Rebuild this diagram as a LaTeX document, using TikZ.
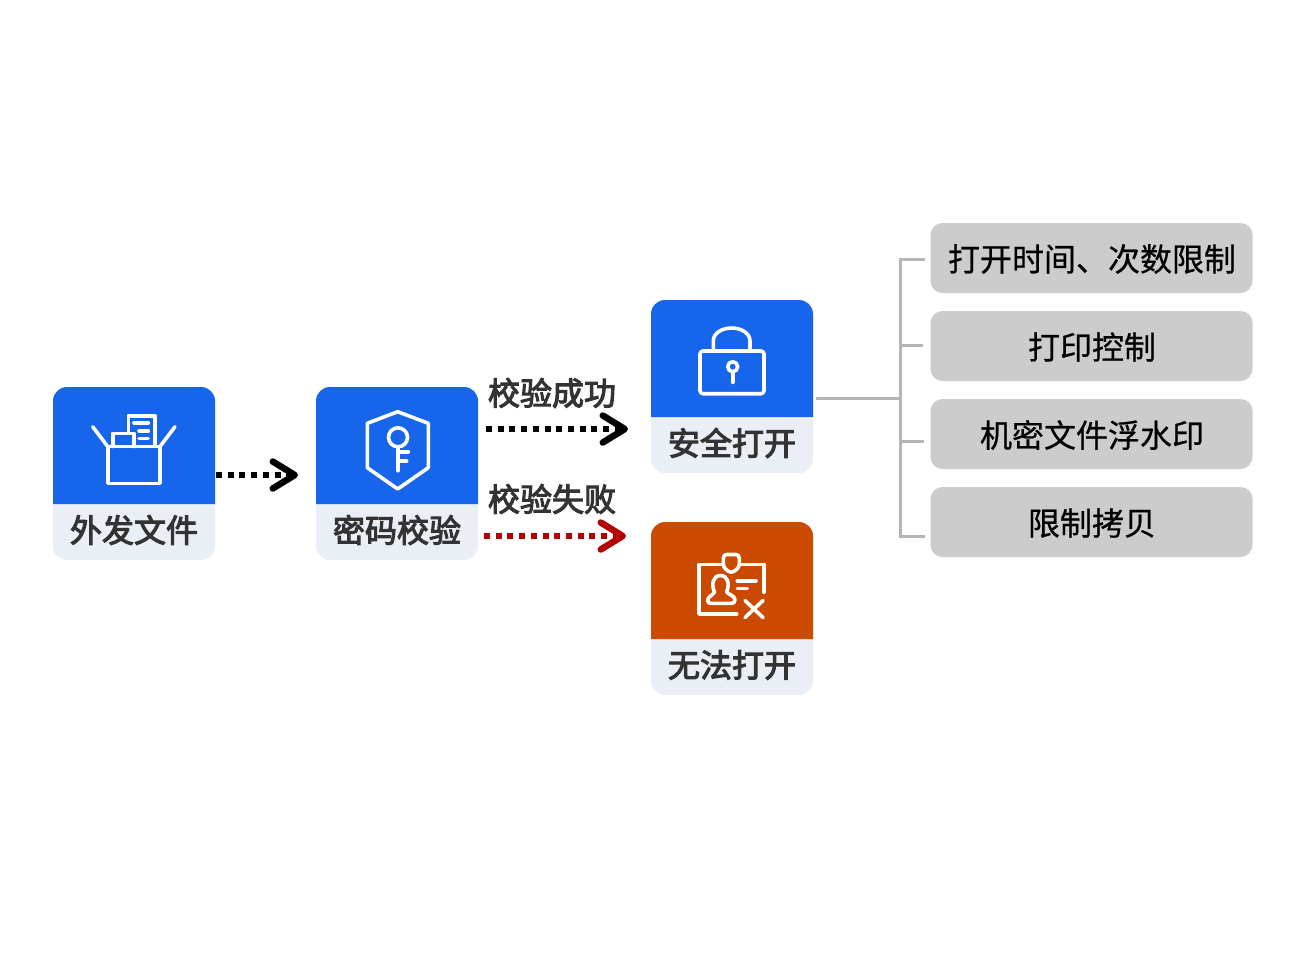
\documentclass[tikz,border=0pt]{standalone}
\usepackage{fontspec}
\setmainfont[FakeBold=0.6]{Noto Sans CJK SC}
\newfontfamily\cardfont[FakeBold=3.3]{Noto Sans CJK SC}
\usetikzlibrary{arrows.meta}
\definecolor{cardblue}{HTML}{1765EB}
\definecolor{cardorange}{HTML}{CC4A00}
\definecolor{cardpale}{HTML}{EAEFF5}
\definecolor{inkdark}{HTML}{333333}
\definecolor{failred}{HTML}{B30000}
\definecolor{linegrey}{HTML}{B5B5B5}
\definecolor{optgrey}{HTML}{CCCCCC}
\tikzset{
  cardbase/.style={fill=cardpale,rounded corners=14pt,minimum width=162pt,minimum height=173pt,inner sep=0pt,draw=none},
  cardtext/.style={font=\cardfont\fontsize{32}{32}\selectfont,text=inkdark,inner sep=0pt},
  optbox/.style={fill=optgrey,rounded corners=12pt,minimum width=322pt,minimum height=70pt,inner sep=0pt,text=black,font=\fontsize{32}{32}\selectfont},
  optlabel/.style={inner sep=0pt,text=black,font=\fontsize{32}{32}\selectfont},
  icon/.style={draw=white,line width=3.6pt,line cap=round,line join=round},
  flow/.style={line width=6pt,dash pattern=on 6pt off 5.7pt,-{Straight Barb[length=22pt,width=27pt,line width=6.5pt,round]}},
  tree/.style={draw=linegrey,line width=3pt}
}
\newcommand{\cardtop}[3]{% cx, top, colour
  \fill[#3] ({#1-81},{#2+117}) [rounded corners=14pt] -- ({#1-81},#2) -- ({#1+81},#2) [sharp corners] -- ({#1+81},{#2+117}) -- cycle;}
\begin{document}
\begin{tikzpicture}[x=1pt,y=-1pt]
\useasboundingbox (0,0) rectangle (1300,962);
% cards
\node[cardbase] (a) at (134,473.5) {};
\cardtop{134}{387}{cardblue}
\node[cardtext] (alabel) at (134,530) {外发文件};
\node[cardbase] (b) at (397,473.5) {};
\cardtop{397}{387}{cardblue}
\node[cardtext] (blabel) at (397,530) {密码校验};
\node[cardbase] (c) at (732,386.5) {};
\cardtop{732}{300}{cardblue}
\node[cardtext] (clabel) at (732,443) {安全打开};
\node[cardbase] (d) at (732,608.5) {};
\cardtop{732}{522}{cardorange}
\node[cardtext] (dlabel) at (732,665) {无法打开};
% icon: box
\draw[icon] (107.7,446.5) rectangle (160,483.3);
\draw[icon] (107.7,446.5) -- (92.7,426.7);
\draw[icon] (160,446.5) -- (175,426.7);
\draw[icon] (112.7,446.5) -- (112.7,433.3) -- (134,433.3) -- (134,446.5);
\draw[icon] (128.3,433) -- (128.3,415.7) -- (155,415.7) -- (155,445.5);
\draw[icon] (134,422.7) -- (148.3,422.7);
\draw[icon] (139,430.7) -- (148.3,430.7);
\draw[icon] (139,438.3) -- (148.3,438.3);
% icon: shield
\draw[icon] (397.7,411.7) -- (428.3,423.3) -- (428.3,467.7) -- (397.7,489) -- (367.3,467.7) -- (367.3,423.3) -- cycle;
\draw[icon] (398,437.3) circle (9.5pt);
\draw[icon] (398,447.7) -- (398,470.7);
\draw[icon] (398,451.7) -- (408.3,451.7);
\draw[icon] (398,461) -- (406.7,461);
% icon: lock
\draw[icon,rounded corners=3pt] (700,351) rectangle (764,393.7);
\draw[icon] (713.3,350) -- (713.3,341) .. controls (713.3,333) and (722,328) .. (731.7,328) .. controls (741,328) and (750,333) .. (750,341) -- (750,350);
\draw[icon] (732.7,366.7) circle (5pt);
\draw[icon] (732.7,372) -- (732.7,382.3);
% icon: id card
\draw[icon] (723.3,564.3) -- (699,564.3) -- (699,614) -- (736.7,614);
\draw[icon] (739.3,564.3) -- (764,564.3) -- (764,592.3);
\draw[icon] (723.3,558) .. controls (723.3,555.5) and (725,554.5) .. (727,554.5) -- (735.5,554.5) .. controls (737.5,554.5) and (739.3,555.5) .. (739.3,558) -- (739.3,564) .. controls (739.3,568) and (735,571.5) .. (731.3,572.3) .. controls (727.5,571.5) and (723.3,568) .. (723.3,564) -- cycle;
\draw[icon] (714.5,592) .. controls (711,584) and (713,575.5) .. (720.5,575.5) .. controls (728,575.5) and (730,584) .. (726.5,592) .. controls (729,595) and (735,595.5) .. (735,600) .. controls (735,603) and (733,603.3) .. (731,603.3) -- (711,603.3) .. controls (708,603.3) and (707,601) .. (708,599) .. controls (709,596) and (713,595) .. (714.5,592) -- cycle;
\draw[icon] (737.3,581) -- (756,581);
\draw[icon] (737.3,588.3) -- (747.3,588.3);
\draw[icon] (745,600.5) -- (763,617.5);
\draw[icon] (763,600.5) -- (745,617.5);
% flow arrows
\coordinate (astart) at (216,475);
\coordinate (aend) at (298,475);
\coordinate (sstart) at (486,429);
\coordinate (send) at (628,429);
\coordinate (fstart) at (484,536);
\coordinate (fend) at (626,536);
\draw[flow,black] (astart) -- (aend);
\draw[flow,black] (sstart) -- (send);
\draw[flow,failred] (fstart) -- (fend);
\node[cardtext] (oklabel) at (552,393) {校验成功};
\node[cardtext] (faillabel) at (552,499) {校验失败};
% options
\node[optbox] (o1) at (1091.5,258) {};
\node[optbox] (o2) at (1091.5,346) {};
\node[optbox] (o3) at (1091.5,434) {};
\node[optbox] (o4) at (1091.5,522) {};
\node[optlabel] (l1) at (1092,259) {打开时间、次数限制};
\node[optlabel] (l2) at (1092,347) {打印控制};
\node[optlabel] (l3) at (1092,435) {机密文件浮水印};
\node[optlabel] (l4) at (1092,523) {限制拷贝};
% tree
\coordinate (tstart) at (816,398);
\coordinate (tmid) at (900,398);
\coordinate (t1) at (900,259);
\coordinate (t1e) at (925,259);
\coordinate (t2) at (900,345);
\coordinate (t2e) at (923,345);
\coordinate (t3) at (900,441.7);
\coordinate (t3e) at (924,441.7);
\coordinate (t4) at (900,536.7);
\coordinate (t4e) at (925,536.7);
\draw[tree] (tstart) -- (tmid);
\draw[tree] (t1e) -- (t1) -- (t4) -- (t4e);
\draw[tree] (t2) -- (t2e);
\draw[tree] (t3) -- (t3e);
\end{tikzpicture}
\end{document}
